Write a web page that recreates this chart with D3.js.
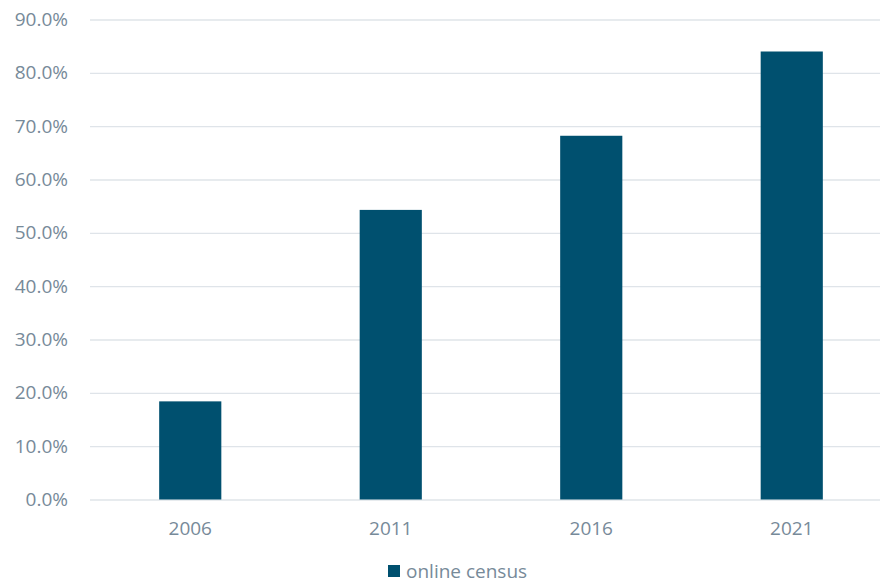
<!DOCTYPE html>
<html><head><meta charset="utf-8">
<script src="https://cdn.jsdelivr.net/npm/d3@7"></script>
<style>body{margin:0;background:#fff;} text{font-family:"Open Sans","Noto Sans",sans-serif;}</style>
</head><body>
<svg id="c" width="880" height="583"></svg>
<script>
const categories = ["2006","2011","2016","2021"];
const seriesName = "online census";
const values = [18.4, 54.3, 68.2, 84.0];
const yTicks = [0,10,20,30,40,50,60,70,80,90];

const svg = d3.select("#c");
const textColor = "#778a99", barColor = "#00506f", gridColor = "#dfe4e9";
const x = d3.scaleBand().domain(categories).range([90, 892]).paddingInner(0.69).paddingOuter(0.345);
const y = d3.scaleLinear().domain([0,90]).range([499.5, 19.5]);

const yAxis = svg.append("g").attr("transform","translate(90,0)")
  .call(d3.axisLeft(y).tickValues(yTicks).tickSize(-790).tickFormat(d => d.toFixed(1) + "%").tickPadding(22));
yAxis.select(".domain").remove();
yAxis.selectAll(".tick line").attr("stroke", gridColor).attr("stroke-width", 1.3);
yAxis.selectAll(".tick text").attr("fill", textColor).style("font-size","19px");

svg.append("g").selectAll("rect").data(values).join("rect")
  .attr("x",(d,i)=>x(categories[i])).attr("width",x.bandwidth())
  .attr("y",d=>y(d)).attr("height",d=>y(0)-y(d)).attr("fill",barColor);

const xAxis = svg.append("g").attr("transform","translate(0,499.5)")
  .call(d3.axisBottom(x).tickSize(0).tickPadding(22));
xAxis.select(".domain").remove();
xAxis.selectAll(".tick text").attr("fill", textColor).style("font-size","19px");

const lg = svg.append("g");
lg.append("rect").attr("x",388).attr("y",565).attr("width",12).attr("height",12).attr("fill",barColor);
lg.append("text").attr("x",406).attr("y",578).attr("fill",textColor).style("font-size","19px").text(seriesName);
</script>
</body></html>
